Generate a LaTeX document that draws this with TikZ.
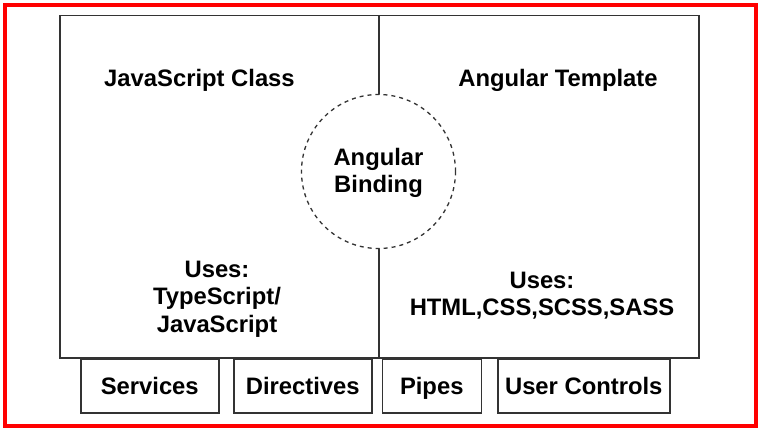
\documentclass[tikz,border=0pt]{standalone}
\usepackage{fontspec}
\setmainfont{Liberation Sans}
\begin{document}
\begin{tikzpicture}[x=1pt,y=-1pt,
  boxline/.style={draw=black!80, line width=1.5pt},
  lbl/.style={font=\fontsize{23.8}{27}\selectfont\bfseries, inner sep=0pt, anchor=base},
  smallbox/.style={boxline, minimum height=54pt, inner sep=0pt, anchor=north west}]
\useasboundingbox (0,0) rectangle (760,430);
\fill[white] (0,0) rectangle (760,430);
\draw[red, line width=4pt] (4.7,4.7) rectangle (756,426);
% main boxes
\node[boxline, minimum width=319pt, minimum height=342pt, anchor=north west, inner sep=0pt] (left) at (59,15) {};
\node[boxline, minimum width=320pt, minimum height=342pt, anchor=north west, inner sep=0pt] (right) at (378,15) {};
% binding circle
\node[circle, draw=black!80, line width=1.3pt, dash pattern=on 4pt off 4pt, fill=white, minimum size=154pt, inner sep=0pt] (bind) at (378.5,171.5) {};
\node[lbl] (bind1) at (378.5,165.5) {Angular};
\node[lbl] (bind2) at (378.5,193) {Binding};
% titles
\node[lbl] (jsc) at (199.5,87) {JavaScript Class};
\node[lbl] (at) at (558,87) {Angular Template};
\node[lbl] (usesl1) at (217,277.3) {Uses:};
\node[lbl] (usesl2) at (217,304.7) {TypeScript/};
\node[lbl] (usesl3) at (217,332) {JavaScript};
\node[lbl] (usesr1) at (542,289) {Uses:};
\node[lbl] (usesr2) at (542,315.5) {HTML,CSS,SCSS,SASS};
% bottom boxes
\node[smallbox, minimum width=138pt] (svc) at (80,358) {};
\node[lbl] (svct) at (svc.center |- 0,394) {Services};
\node[smallbox, minimum width=138pt] (dir) at (233,358) {};
\node[lbl] (dirt) at (dir.center |- 0,394) {Directives};
\node[smallbox, minimum width=99pt] (pip) at (381.5,358) {};
\node[lbl] (pipt) at (pip.center |- 0,394) {Pipes};
\node[smallbox, minimum width=172pt] (uc) at (497,358) {};
\node[lbl] (uct) at (uc.center |- 0,394) {User Controls};
\end{tikzpicture}
\end{document}
